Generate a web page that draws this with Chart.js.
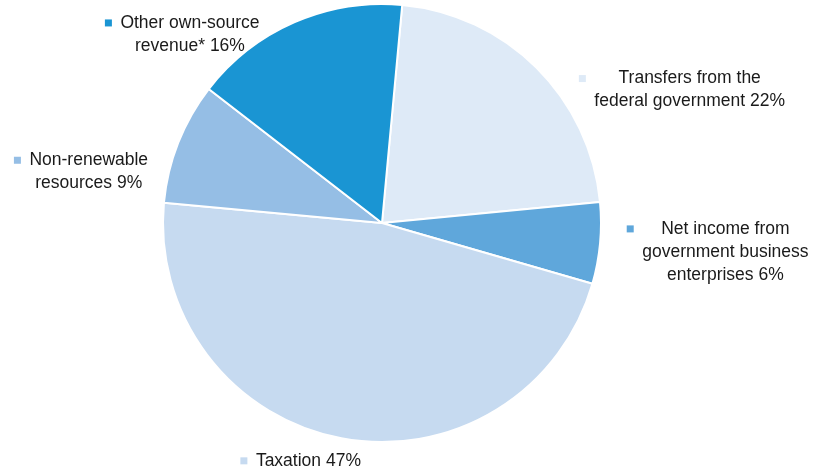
<!DOCTYPE html>
<html>
<head>
<meta charset="utf-8">
<title>Revenue sources</title>
<script src="https://cdn.jsdelivr.net/npm/chart.js@4.4.1/dist/chart.umd.min.js"></script>
<style>
  html, body { margin: 0; padding: 0; background: #fff; }
  #wrap { width: 817px; height: 473px; position: relative; }
</style>
</head>
<body>
<div id="wrap"><canvas id="pie"></canvas></div>
<script>
// slices listed clockwise from the top
const categories = [
  ['Transfers from the', 'federal government'],
  ['Net income from', 'government business', 'enterprises'],
  ['Taxation'],
  ['Non-renewable', 'resources'],
  ['Other own-source', 'revenue*']
];
const shares = [22, 6, 47, 9, 16];
const colors = ['#deeaf7', '#5fa7db', '#c6daf0', '#95bee5', '#1a95d3'];

// label block centre, in multiples of the pie radius from the pie centre
const labelOffsets = [
  [1.405, -0.607],
  [1.568, 0.132],
  [-0.336, 1.086],
  [-1.339, -0.234],
  [-0.877, -0.861]
];

const sliceLabels = {
  id: 'sliceLabels',
  afterDatasetsDraw(chart) {
    const ctx = chart.ctx;
    const arcs = chart.getDatasetMeta(0).data;
    const fontSize = 17.5;
    const lineH = 23;
    ctx.save();
    ctx.font = fontSize + 'px "Liberation Sans", Arial, sans-serif';
    ctx.textAlign = 'center';
    ctx.textBaseline = 'middle';
    arcs.forEach((arc, i) => {
      const lines = categories[i].slice();
      lines[lines.length - 1] += ' ' + shares[i] + '%';
      const r = arc.outerRadius;
      const cx = arc.x + labelOffsets[i][0] * r;
      const cy = arc.y + labelOffsets[i][1] * r;
      const top = cy - (lines.length - 1) * lineH / 2;
      let widest = 0;
      lines.forEach(l => { widest = Math.max(widest, ctx.measureText(l).width); });
      ctx.fillStyle = '#1a1a1a';
      lines.forEach((l, k) => ctx.fillText(l, cx, top + k * lineH));
      // legend-style marker to the left of the text
      ctx.fillStyle = colors[i];
      ctx.fillRect(cx - widest / 2 - 15.5, top - 3.5, 7, 7);
    });
    ctx.restore();
  }
};

new Chart(document.getElementById('pie'), {
  type: 'pie',
  data: {
    labels: categories,
    datasets: [{
      data: shares,
      backgroundColor: colors,
      borderColor: '#ffffff',
      borderWidth: 2
    }]
  },
  options: {
    responsive: true,
    maintainAspectRatio: false,
    animation: false,
    rotation: 5.3,
    layout: { padding: { left: 162, right: 215, top: 3, bottom: 30 } },
    plugins: {
      legend: { display: false },
      tooltip: { enabled: false }
    }
  },
  plugins: [sliceLabels]
});
</script>
</body>
</html>
